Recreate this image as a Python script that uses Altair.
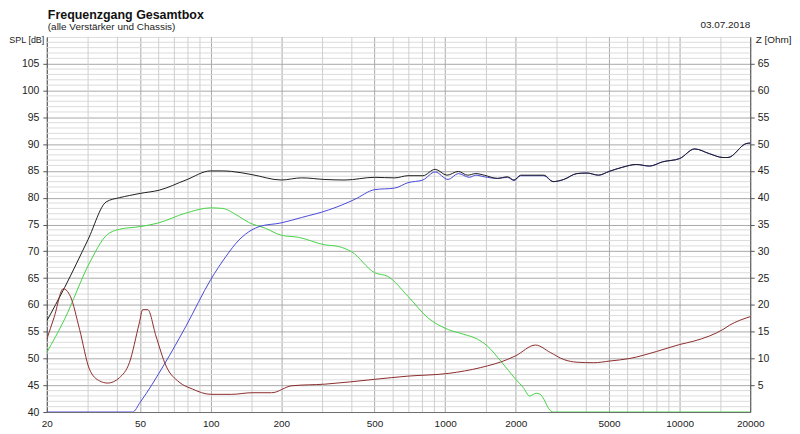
import altair as alt
import pandas as pd

# ---------------- data ----------------
black_f = [20, 23.8, 30, 35.8, 40.8, 45, 50, 60.3, 78.4, 100, 112, 123, 150, 200, 244, 307, 374,
           500, 610, 694, 803, 906, 1018, 1138, 1246, 1352, 1467, 1672, 1842, 1967, 2099, 2636,
           2887, 3204, 3647, 4024, 4510, 5000, 5725, 6531, 7438, 8473, 10000, 11590, 13420,
           15300, 16070, 19230, 20000]
black_db = [57.0, 63.2, 72.2, 79.2, 80.0, 80.4, 80.8, 81.4, 83.3, 85.0, 85.0, 84.9, 84.3, 83.3,
            83.7, 83.4, 83.3, 83.8, 83.7, 84.1, 84.1, 85.3, 84.2, 84.9, 84.2, 84.5, 84.2, 83.6,
            83.9, 83.3, 84.2, 84.2, 83.0, 83.4, 84.5, 84.6, 84.2, 84.9, 85.7, 86.2, 85.9, 86.7,
            87.3, 89.1, 88.2, 87.5, 87.5, 90.1, 90.2]

green_f = [20, 23.8, 30.4, 35.8, 40.8, 50, 60, 78, 100, 112, 132, 145, 171, 200, 237, 307, 350,
           399, 500, 570, 694, 843, 1029, 1202, 1373, 1515, 1727, 2000, 2150, 2293, 2446, 2544,
           2636, 2768, 2887, 20000]
green_db = [51.1, 57.3, 67.8, 72.9, 74.1, 74.6, 75.3, 77.1, 78.1, 78.0, 76.5, 75.4, 74.3, 73.0,
            72.6, 71.2, 70.9, 69.9, 66.0, 65.3, 61.6, 57.6, 55.4, 54.5, 53.6, 52.3, 49.5, 46.1,
            44.6, 43.0, 43.5, 43.3, 42.4, 40.6, 40.0, 40.0]

blue_f = [20, 46.5, 50, 63.4, 78.4, 100, 116, 132, 150, 161, 200, 244, 318, 361, 412, 500, 610,
          694, 803, 906, 1029, 1138, 1268, 1352, 1467, 1672, 1842, 1967, 2099, 2636, 2887, 3204,
          3647, 4024, 4510, 5000, 5725, 6531, 7438, 8473, 10000, 11590, 13420, 15300, 16070,
          19230, 20000]
blue_db = [40.0, 40.0, 41.8, 48.9, 56.0, 64.7, 69.0, 72.1, 74.0, 74.6, 75.3, 76.3, 77.7, 78.6,
           79.7, 81.5, 81.8, 82.8, 83.3, 84.8, 83.4, 84.5, 83.8, 84.2, 83.9, 83.6, 83.8, 83.2,
           84.1, 84.1, 83.0, 83.4, 84.5, 84.6, 84.2, 84.9, 85.7, 86.2, 85.9, 86.7, 87.3, 89.1,
           88.2, 87.5, 87.5, 90.1, 90.2]

imp_f = [20, 21.5, 23.5, 25.2, 27.6, 30.4, 33.6, 36.4, 40.8, 45, 49.6, 51.3, 53.9, 58.4, 64.5,
         73.3, 83.5, 100, 123, 150, 182, 222, 307, 500, 694, 1029, 1419, 1842, 2000, 2427, 2812,
         3204, 3647, 4300, 5000, 6135, 7977, 10000, 11420, 13420, 15300, 16330, 20000]
imp_ohm = [13.6, 17.7, 23.0, 21.6, 15.4, 8.0, 5.8, 5.4, 6.4, 9.2, 16.6, 19.1, 19.1, 14.2, 8.6,
           5.6, 4.3, 3.3, 3.3, 3.6, 3.6, 4.9, 5.2, 6.1, 6.7, 7.2, 8.3, 9.8, 10.5, 12.5, 11.1,
           9.8, 9.3, 9.2, 9.5, 10.0, 11.3, 12.6, 13.2, 14.2, 15.4, 16.2, 17.8]

# tick / grid values
x_major = [20, 50, 100, 200, 500, 1000, 2000, 5000, 10000, 20000]
x_minor = [30, 40, 60, 70, 80, 90, 150, 300, 400, 600, 700, 800, 900, 1500, 3000, 4000,
           6000, 7000, 8000, 9000, 15000]
spl_ticks = list(range(40, 106, 5))
spl_minor = [v for v in range(41, 110) if v % 5 != 0]
z_ticks = list(range(5, 66, 5))

title_txt = "Frequenzgang Gesamtbox"
subtitle_txt = "(alle Verstärker und Chassis)"
date_txt = "03.07.2018"

FONT = "Liberation Sans"

# ---------------- scales / axes ----------------
x_scale = alt.Scale(type="log", domain=[20, 20000], nice=False)
spl_scale = alt.Scale(domain=[40, 110], nice=False, zero=False)
z_scale = alt.Scale(domain=[0, 70], nice=False, zero=False)

x_axis = alt.Axis(values=x_major, format="d", grid=True, gridColor="#a8a8a8", ticks=False,
                  labelPadding=7, labelFlush=False, labelOverlap=False, title=None,
                  domainColor="#707070", labelFontSize=10, labelColor="#222222")
spl_axis = alt.Axis(values=spl_ticks, title="SPL [dB]", titleAngle=0, titleAlign="right",
                    titleBaseline="middle", titleX=-3, titleY=3, titleFontWeight="normal",
                    titleFontSize=9, titleColor="#222222", grid=True, gridColor="#a8a8a8",
                    tickSize=4, tickColor="#555555", labelPadding=4, labelFlush=False,
                    labelOverlap=False, domainColor="#555555", labelFontSize=10.5,
                    labelColor="#222222")
z_axis = alt.Axis(orient="right", values=z_ticks, title="Z [Ohm]", titleAngle=0,
                  titleAlign="left", titleBaseline="middle", titleX=5, titleY=3,
                  titleFontWeight="normal", titleFontSize=10, titleColor="#222222",
                  grid=False, tickSize=4, tickColor="#555555", labelPadding=3,
                  labelFlush=False, labelOverlap=False, domainColor="#555555",
                  labelFontSize=10.5, labelColor="#222222")


def sdf(f, v):
    return pd.DataFrame({"f": f, "v": v})


X = alt.X("f:Q", scale=x_scale, axis=x_axis)
Y = alt.Y("v:Q", scale=spl_scale, axis=spl_axis)

h_minor = alt.Chart(pd.DataFrame({"v": spl_minor})).mark_rule(
    color="#dcdcdc", strokeWidth=1).encode(y=Y)
v_minor = alt.Chart(pd.DataFrame({"f": x_minor})).mark_rule(
    color="#cfcfcf", strokeWidth=1).encode(x=X)

green = alt.Chart(sdf(green_f, green_db)).mark_line(
    color="#45d345", strokeWidth=1, clip=True, interpolate="monotone").encode(x=X, y=Y)
blue = alt.Chart(sdf(blue_f, blue_db)).mark_line(
    color="#4848dc", strokeWidth=1, clip=True, interpolate="monotone").encode(x=X, y=Y)
black = alt.Chart(sdf(black_f, black_db)).mark_line(
    color="#1e1e1e", strokeWidth=1, clip=True, interpolate="monotone").encode(x=X, y=Y)

title_mark = alt.Chart(pd.DataFrame({"t": [title_txt]})).mark_text(
    align="left", baseline="alphabetic", font=FONT, fontSize=12.5, fontWeight="bold",
    color="#111111").encode(text="t:N", x=alt.value(1), y=alt.value(-18.5))
sub_mark = alt.Chart(pd.DataFrame({"t": [subtitle_txt]})).mark_text(
    align="left", baseline="alphabetic", font=FONT, fontSize=10, color="#222222"
).encode(text="t:N", x=alt.value(1), y=alt.value(-7))
date_mark = alt.Chart(pd.DataFrame({"t": [date_txt]})).mark_text(
    align="right", baseline="alphabetic", font=FONT, fontSize=10, color="#222222"
).encode(text="t:N", x=alt.value(707), y=alt.value(-8.5))

spl_layer = alt.layer(h_minor, v_minor, green, blue, black, title_mark, sub_mark, date_mark)

imp = alt.Chart(sdf(imp_f, imp_ohm)).mark_line(
    color="#8c2b2b", strokeWidth=1, clip=True, interpolate="monotone").encode(
    x=X, y=alt.Y("v:Q", scale=z_scale, axis=z_axis))

chart = alt.layer(spl_layer, imp).resolve_scale(y="independent").properties(
    width=707, height=377,
    autosize=alt.AutoSizeParams(type="none"),
    padding={"left": 39, "top": 28, "right": 42, "bottom": 20},
).configure_view(stroke="#8c8c8c").configure_axis(
    labelFont=FONT, titleFont=FONT
).configure(background="white")

chart.save("out.html", embed_options={"renderer": "svg", "actions": False})
